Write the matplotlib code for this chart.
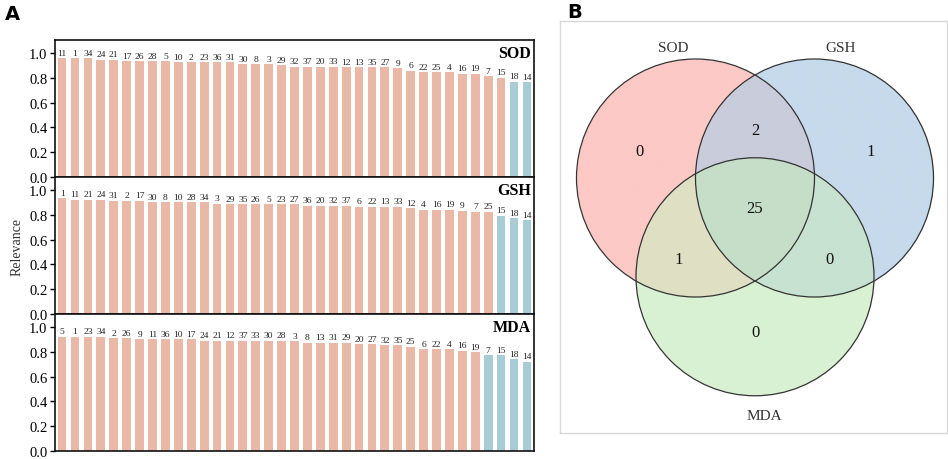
import matplotlib
matplotlib.use("Agg")
import matplotlib.pyplot as plt
from matplotlib.patches import Circle
import numpy as np

# ---------------- data ----------------
sod_labels = ["11", "1", "34", "24", "21", "17", "26", "28", "5", "10", "2", "23", "36", "31",
              "30", "8", "3", "29", "32", "37", "20", "33", "12", "13", "35", "27", "9", "6",
              "22", "25", "4", "16", "19", "7", "15", "18", "14"]
sod_values = [0.957, 0.957, 0.957, 0.944, 0.944, 0.935, 0.935, 0.935, 0.935, 0.925, 0.925,
              0.925, 0.925, 0.925, 0.91, 0.91, 0.91, 0.903, 0.89, 0.89, 0.89, 0.89, 0.885,
              0.885, 0.885, 0.885, 0.876, 0.857, 0.845, 0.845, 0.845, 0.833, 0.833, 0.812,
              0.80, 0.768, 0.765]
sod_flag = [0] * 35 + [1, 1]

gsh_labels = ["1", "11", "21", "24", "31", "2", "17", "30", "8", "10", "28", "34", "3", "29",
              "35", "26", "5", "23", "27", "36", "20", "32", "37", "6", "22", "13", "33", "12",
              "4", "16", "19", "9", "7", "25", "15", "18", "14"]
gsh_values = [0.933, 0.922, 0.922, 0.922, 0.914, 0.914, 0.914, 0.903, 0.903, 0.903, 0.903,
              0.903, 0.89, 0.885, 0.885, 0.885, 0.885, 0.885, 0.885, 0.874, 0.874, 0.874,
              0.874, 0.866, 0.866, 0.866, 0.866, 0.852, 0.841, 0.841, 0.841, 0.833, 0.825,
              0.825, 0.793, 0.772, 0.755]
gsh_flag = [0] * 34 + [1, 1, 1]

mda_labels = ["5", "1", "23", "34", "2", "26", "9", "11", "36", "10", "17", "24", "21", "12",
              "37", "33", "30", "28", "3", "8", "13", "31", "29", "20", "27", "32", "35", "25",
              "6", "22", "4", "16", "19", "7", "15", "18", "14"]
mda_values = [0.922, 0.922, 0.922, 0.922, 0.91, 0.91, 0.90, 0.90, 0.90, 0.90, 0.90, 0.89,
              0.89, 0.89, 0.89, 0.89, 0.89, 0.89, 0.885, 0.874, 0.874, 0.874, 0.874, 0.862,
              0.862, 0.852, 0.852, 0.842, 0.82, 0.82, 0.82, 0.81, 0.798, 0.772, 0.772, 0.74,
              0.72]
mda_flag = [0] * 33 + [1, 1, 1, 1]

panel_names = ["SOD", "GSH", "MDA"]
yticks = [0.0, 0.2, 0.4, 0.6, 0.8, 1.0]

venn_sets = ["SOD", "GSH", "MDA"]
venn_counts = {"100": 0, "010": 1, "001": 0, "110": 2, "101": 1, "011": 0, "111": 25}

# ---------------- style ----------------
SERIF = ["Liberation Serif", "DejaVu Serif"]
C_SALMON = "#e9b8a7"
C_BLUE = "#a8ccd6"
region_colors = {"100": "#fcc9c5", "010": "#c6daec", "001": "#d9f1d3", "110": "#c9ccda",
                 "101": "#dfe0c3", "011": "#c7e2d0", "111": "#c6dec8"}

fig = plt.figure(figsize=(9.48, 4.6), dpi=100)
W, H = 948, 460

def fig_rect(x0, y0, x1, y1):
    return [x0 / W, 1 - y1 / H, (x1 - x0) / W, (y1 - y0) / H]

panels = [
    (sod_labels, sod_values, sod_flag),
    (gsh_labels, gsh_values, gsh_flag),
    (mda_labels, mda_values, mda_flag),
]
ax_left, ax_right, ax_top, ax_bot = 55, 534, 41, 452
ph = (ax_bot - ax_top) / 3
axes = []
for i, (labs, vals, flag) in enumerate(panels):
    ax = fig.add_axes(fig_rect(ax_left, ax_top + i * ph, ax_right, ax_top + (i + 1) * ph))
    axes.append(ax)
    x = np.arange(len(vals))
    cols = [C_BLUE if f else C_SALMON for f in flag]
    ax.bar(x, vals, width=0.68, color=cols, edgecolor="none")
    for xi, v, lab in zip(x, vals, labs):
        ax.text(xi, v + 0.012, lab, ha="center", va="bottom", fontsize=6.8,
                family=SERIF, color="#222222")
    ax.set_xlim(-0.55, len(vals) - 0.45)
    ax.set_ylim(0, 1.105)
    ax.set_yticks(yticks)
    ax.set_yticklabels([f"{t:.1f}" for t in yticks], family=SERIF, fontsize=10.5)
    ax.set_xticks([])
    ax.tick_params(axis="y", length=3.5, width=1, direction="out", pad=2)
    for s in ax.spines.values():
        s.set_linewidth(1.2)
        s.set_color("#111111")
    ax.text(0.993, 0.905, panel_names[i], transform=ax.transAxes, ha="right", va="center",
            fontsize=11.5, fontweight="bold", family=SERIF)

axes[1].set_ylabel("Relevance", family=SERIF, fontsize=10, labelpad=4, color="#333333")

fig.text(5 / W, 1 - 15 / H, "A", fontsize=14, fontweight="bold", family="DejaVu Sans",
         va="center", ha="left")
fig.text(567 / W, 1 - 12 / H, "B", fontsize=14, fontweight="bold", family="DejaVu Sans",
         va="center", ha="left")

# ---------------- venn ----------------
vx0, vy0, vx1, vy1 = 560, 22, 947, 434
r_px = 119.0
cx_px, cy_px = 755.0, 179.0
vax = fig.add_axes(fig_rect(vx0, vy0, vx1, vy1))
xlo, xhi = (vx0 - cx_px) / r_px, (vx1 - cx_px) / r_px
ylo, yhi = (vy0 - cy_px) / r_px, (vy1 - cy_px) / r_px
vax.set_xlim(xlo, xhi)
vax.set_ylim(yhi, ylo)
vax.set_xticks([])
vax.set_yticks([])
for s in vax.spines.values():
    s.set_color("#d8d8d8")
    s.set_linewidth(1.0)

centers = {"SOD": (-0.5, 0.0), "GSH": (0.5, 0.0), "MDA": (0.0, 0.83)}

# raster of region membership, coloured per region
nx, ny = 800, 850
gx = np.linspace(xlo, xhi, nx)
gy = np.linspace(ylo, yhi, ny)
GX, GY = np.meshgrid(gx, gy)
inside = [((GX - centers[n][0]) ** 2 + (GY - centers[n][1]) ** 2) <= 1.0 for n in venn_sets]
img = np.ones((ny, nx, 4))
img[..., 3] = 0.0
for key, col in region_colors.items():
    mask = np.ones_like(GX, dtype=bool)
    for bit, ins in zip(key, inside):
        mask &= ins if bit == "1" else ~ins
    rgba = matplotlib.colors.to_rgba(col)
    img[mask] = rgba
vax.imshow(img, extent=(xlo, xhi, yhi, ylo), origin="upper", interpolation="bilinear",
           zorder=1, aspect="auto")

for name in venn_sets:
    vax.add_patch(Circle(centers[name], 1.0, facecolor="none", edgecolor="#333333",
                         linewidth=0.9, zorder=2))

vax.text(-0.69, -1.1, "SOD", ha="center", va="center", fontsize=11, family=SERIF,
         color="#333333")
vax.text(0.72, -1.1, "GSH", ha="center", va="center", fontsize=11, family=SERIF,
         color="#333333")
vax.text(0.08, 2.0, "MDA", ha="center", va="center", fontsize=11, family=SERIF,
         color="#333333")

region_pos = {"100": (-0.97, -0.23), "010": (0.97, -0.23), "001": (0.0, 1.29),
              "110": (0.0, -0.40), "101": (-0.64, 0.68), "011": (0.63, 0.68),
              "111": (0.0, 0.25)}
for key, pos in region_pos.items():
    vax.text(pos[0], pos[1], str(venn_counts[key]), ha="center", va="center",
             fontsize=12, family=SERIF, color="#111111", zorder=3)

vax.set_xlim(xlo, xhi)
vax.set_ylim(yhi, ylo)

fig.savefig("out.png", dpi=100)
